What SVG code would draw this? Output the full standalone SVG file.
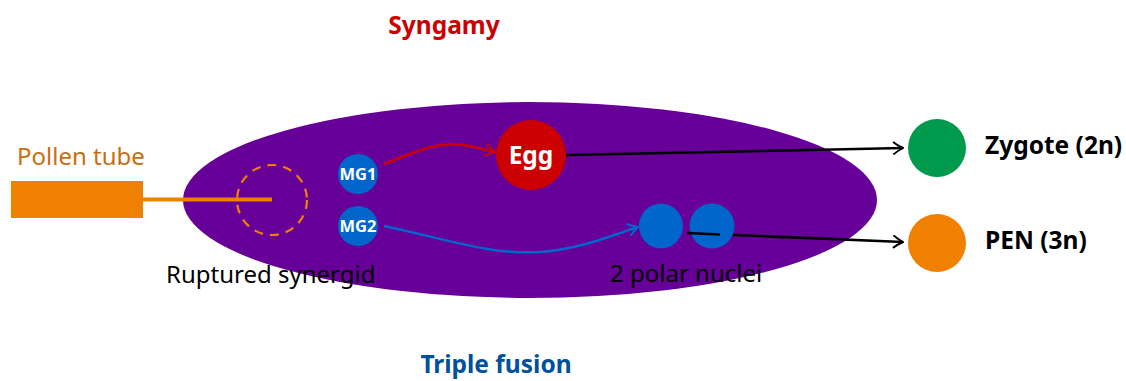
<svg xmlns="http://www.w3.org/2000/svg" width="1126" height="381" viewBox="0 0 1126 381">
<defs>
<style>
text{font-family:"Noto Sans","Open Sans","DejaVu Sans",sans-serif}
.b{font-weight:bold;font-size:24.5px}
.lbl{font-size:24px;fill:#000}
.mg{fill:#0066cc}
.mgt{font-size:16.5px;font-weight:bold;fill:#fff}
.conn{fill:none;stroke-width:2.5}
</style>
<marker id="ahr" viewBox="0 0 10 10" refX="9" refY="5" markerWidth="14" markerHeight="14" markerUnits="userSpaceOnUse" orient="auto">
<path d="M2,0.5 Q5,3 9,5 Q5,7 2,9.5" fill="none" stroke="#cc0000" stroke-width="1.4"/>
</marker>
<marker id="ahb" viewBox="0 0 10 10" refX="9" refY="5" markerWidth="14" markerHeight="14" markerUnits="userSpaceOnUse" orient="auto">
<path d="M2,0.5 Q5,3 9,5 Q5,7 2,9.5" fill="none" stroke="#0066cc" stroke-width="1.4"/>
</marker>
<marker id="ahk" viewBox="0 0 10 10" refX="9" refY="5" markerWidth="14" markerHeight="14" markerUnits="userSpaceOnUse" orient="auto">
<path d="M2,0.5 Q5,3 9,5 Q5,7 2,9.5" fill="none" stroke="#000" stroke-width="1.4"/>
</marker>
</defs>
<rect width="1126" height="381" fill="#fff"/>
<g id="embryo-sac">
<ellipse cx="530" cy="200" rx="347" ry="98" fill="#660099"/>
</g>
<g id="pollen-tube">
<rect x="11" y="181" width="132" height="37" fill="#f08000"/>
<line x1="143" y1="199.5" x2="272" y2="199.5" stroke="#f08000" stroke-width="4"/>
<text x="17" y="165" font-size="24" fill="#c86e10">Pollen tube</text>
</g>
<g id="synergid">
<circle cx="272" cy="200" r="35" fill="none" stroke="#f08000" stroke-width="2.2" stroke-dasharray="9 7"/>
<text class="lbl" x="166" y="283">Ruptured synergid</text>
</g>
<g id="connectors">
<path class="conn" d="M384,164 C420,150 440,140 470,146 L495,152" stroke="#cc0000" marker-end="url(#ahr)"/>
<path class="conn" d="M384,226 C450,240 490,255 540,252 C580,249 610,236 638,227" stroke="#0066cc" marker-end="url(#ahb)"/>
<path class="conn" d="M566,155 L903,148" stroke="#000" marker-end="url(#ahk)"/>
<path class="conn" d="M687,233 L903,242" stroke="#000" marker-end="url(#ahk)"/>
</g>
<g id="mg1">
<circle class="mg" cx="358" cy="174" r="20"/>
<text class="mgt" x="358" y="180" text-anchor="middle">MG1</text>
</g>
<g id="mg2">
<circle class="mg" cx="358" cy="226" r="20"/>
<text class="mgt" x="358" y="232" text-anchor="middle">MG2</text>
</g>
<g id="egg">
<circle cx="531" cy="155" r="35" fill="#cc0000"/>
<text x="531" y="164" class="b" fill="#fff" text-anchor="middle">Egg</text>
</g>
<g id="polar-nuclei">
<ellipse cx="661" cy="226" rx="22" ry="22.5" fill="#0066cc"/>
<ellipse cx="712" cy="226" rx="22.5" ry="22.5" fill="#0066cc"/>
<path d="M687,233 L720,234.4" stroke="#000" stroke-width="2.5"/>
<text class="lbl" x="610" y="282">2 polar nuclei</text>
</g>
<g id="zygote">
<circle cx="937" cy="148" r="29" fill="#009a4c"/>
<text x="985" y="154" class="b" fill="#000">Zygote (2n)</text>
</g>
<g id="pen">
<circle cx="937" cy="243" r="29" fill="#f08000"/>
<text x="985" y="249" class="b" fill="#000">PEN (3n)</text>
</g>
<g id="titles">
<text x="444" y="34" class="b" fill="#cc0000" text-anchor="middle">Syngamy</text>
<text x="496" y="373" class="b" fill="#0050a0" text-anchor="middle">Triple fusion</text>
</g>
</svg>
